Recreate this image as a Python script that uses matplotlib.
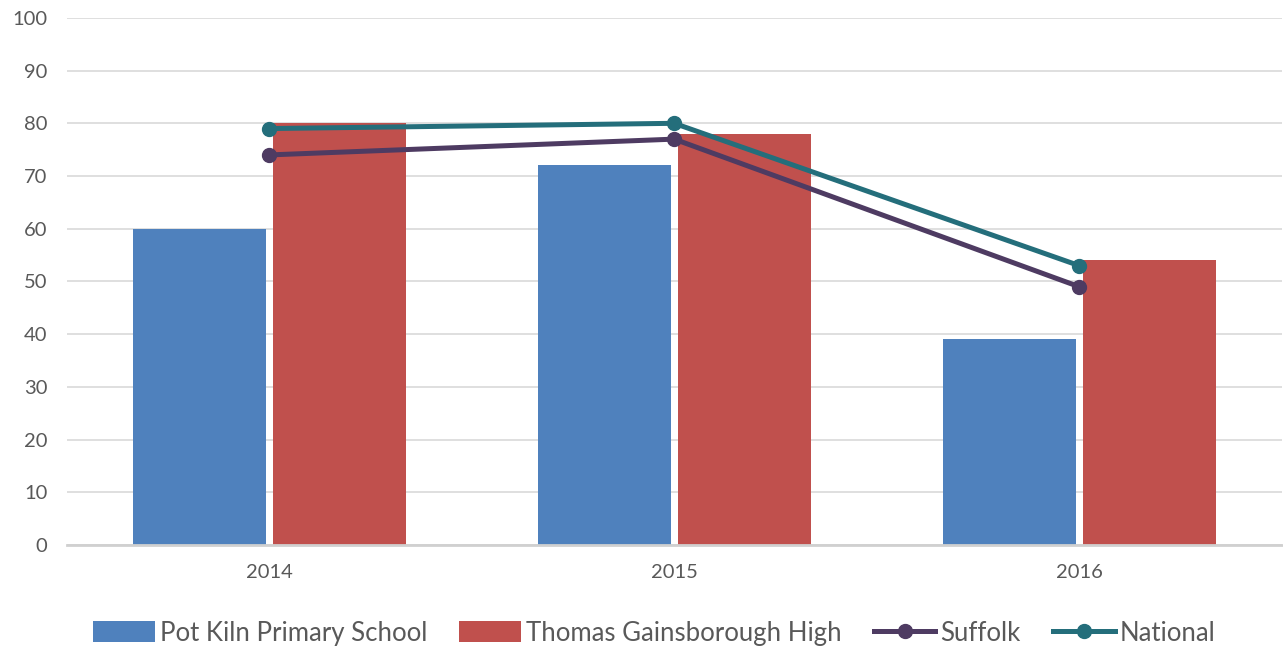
import matplotlib.pyplot as plt
import numpy as np

years = ["2014", "2015", "2016"]
pot_kiln = [60, 72, 39]
thomas = [80, 78, 54]
suffolk = [74, 77, 49]
national = [79, 80, 53]

plt.rcParams["font.family"] = ["Lato", "DejaVu Sans"]
text_col = "#595959"

fig = plt.figure(figsize=(12.83, 6.5), dpi=100)
ax = fig.add_axes([0.052, 0.1615, 0.947, 0.811])

x = np.arange(len(years))
w = 0.328
gap = 0.009
b1 = ax.bar(x - w / 2 - gap, pot_kiln, w, color="#4F81BD", label="Pot Kiln Primary School", zorder=2)
b2 = ax.bar(x + w / 2 + gap, thomas, w, color="#C0504D", label="Thomas Gainsborough High", zorder=2)
l1, = ax.plot(x, suffolk, color="#4E3B62", lw=3.6, marker="o", ms=10, label="Suffolk", zorder=3)
l2, = ax.plot(x, national, color="#246E7B", lw=3.6, marker="o", ms=10, label="National", zorder=3)

ax.set_xlim(-0.5, 2.5)
ax.set_ylim(0, 100)
ax.set_yticks(range(0, 101, 10))
ax.set_xticks(x)
ax.set_xticklabels(years)
ax.yaxis.grid(True, color="#D9D9D9", lw=1.2, zorder=0)
ax.set_axisbelow(True)
for s in ["top", "right", "left"]:
    ax.spines[s].set_visible(False)
ax.spines["bottom"].set_color("#D0D0D0")
ax.spines["bottom"].set_linewidth(2)
ax.tick_params(axis="both", length=0, labelsize=14.5, colors=text_col)
ax.tick_params(axis="y", pad=14)
ax.tick_params(axis="x", pad=14)

leg = fig.legend([b1, b2, l1, l2],
                 ["Pot Kiln Primary School", "Thomas Gainsborough High", "Suffolk", "National"],
                 loc="center", bbox_to_anchor=(0.51, 0.026), ncol=4, frameon=False,
                 fontsize=18.5, handlelength=2.4, handleheight=0.9, handletextpad=0.2,
                 columnspacing=1.25)
for t in leg.get_texts():
    t.set_color(text_col)

fig.savefig("out.png", dpi=100)
